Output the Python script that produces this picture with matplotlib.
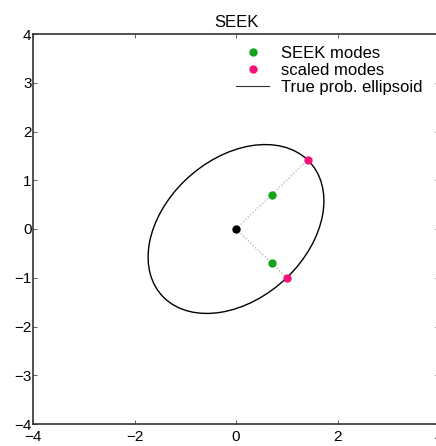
import numpy as np
import matplotlib.pyplot as plt
from matplotlib.patches import Ellipse

plt.rcParams['font.family'] = ['Liberation Sans', 'DejaVu Sans']

# mean, SEEK modes and the modes scaled onto the ellipse
mean = [0.0, 0.0]
seek_x = [0.707, 0.707]
seek_y = [0.707, -0.707]
scaled_x = [1.414, 1.0]
scaled_y = [1.414, -1.0]
# true covariance ellipse: semi-axes and orientation
semi_major = 2.0
semi_minor = np.sqrt(2.0)
angle_deg = 45.0

green = '#16a21c'
pink = '#f5127a'

fig = plt.figure(figsize=(4.36, 4.46), dpi=100)
ax = fig.add_axes([33 / 436, 22 / 446, 406 / 436, 390 / 446])

for sx, sy in zip(scaled_x, scaled_y):
    ax.plot([mean[0], sx], [mean[1], sy], ':', color='#b0b0b0', lw=0.9, zorder=1)

ell = Ellipse(mean, 2 * semi_major, 2 * semi_minor, angle=angle_deg,
              fill=False, ec='black', lw=1.0, zorder=2)
ax.add_patch(ell)
ax.plot([], [], '-', color='#333333', lw=0.8, label='True prob. ellipsoid')

ax.plot(seek_x, seek_y, 'o', color=green, ms=5, mec=green, zorder=3, label='SEEK modes')
ax.plot(scaled_x, scaled_y, 'o', color=pink, ms=5, mec=pink, zorder=3, label='scaled modes')
ax.plot(mean[0], mean[1], 'o', color='black', ms=5, zorder=3)

ax.set_xlim(-4, 4)
ax.set_ylim(-4, 4)
ax.set_xticks([-4, -2, 0, 2, 4])
ax.set_yticks(np.arange(-4, 5, 1))
ax.tick_params(direction='in', top=True, right=True, length=3, width=0.6,
               labelsize=11, color='#444444')
ax.tick_params(axis='x', pad=4)
ax.tick_params(axis='y', pad=1)
for s in ax.spines.values():
    s.set_linewidth(1.2)
    s.set_color('#333333')
ax.set_title('SEEK', fontsize=12, pad=5)

h, l = ax.get_legend_handles_labels()
order = [1, 2, 0]
ax.legend([h[i] for i in order], [l[i] for i in order], loc='upper right',
          frameon=False, fontsize=12, handlelength=2.0, handletextpad=0.7,
          labelspacing=0.12, borderaxespad=0.3, bbox_to_anchor=(1 - 5 / 406, 1.0))

fig.savefig('out.png', dpi=100)
